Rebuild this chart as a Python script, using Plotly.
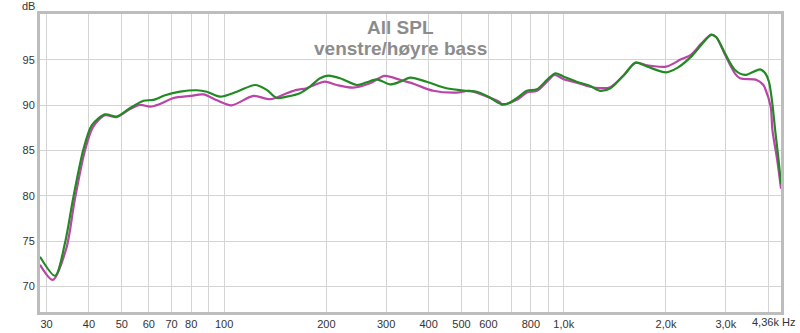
import plotly.graph_objects as go

# Green series (frequency Hz, SPL dB)
green_freq = [28.7, 31.8, 34.0, 36.0, 38.5, 40.8, 44.6, 48.3, 52.9, 57.9, 61.9, 67.0, 74.2, 83.1, 88.9,
              97.3, 109, 123.4, 133.5, 142.9, 152.9, 167.2, 179, 191.6, 202.6, 219.6, 245.9, 263.1,
              281.6, 308.5, 330, 353, 395, 452, 518, 555, 600, 648, 680, 727, 779, 834, 893, 944,
              1000, 1091, 1197, 1278, 1372, 1505, 1627, 1764, 2000, 2165, 2372, 2540, 2718, 2814,
              2983, 3194, 3418, 3788, 3921, 4020, 4110, 4200, 4290, 4363]
green_db = [73.3, 71.2, 74.8, 79.9, 85.1, 87.8, 89.0, 88.75, 89.7, 90.5, 90.6, 91.1, 91.5, 91.66, 91.5,
            90.95, 91.5, 92.24, 91.7, 90.8, 90.95, 91.33, 92.06, 92.98, 93.27, 92.98, 92.24, 92.54,
            92.87, 92.3, 92.6, 93.05, 92.6, 91.88, 91.6, 91.5, 90.95, 90.2, 90.15, 90.78, 91.6, 91.77,
            92.8, 93.53, 93.16, 92.6, 92.13, 91.6, 91.88, 93.35, 94.7, 94.26, 93.64, 94.15, 95.37,
            96.65, 97.76, 97.5, 95.74, 93.9, 93.35, 93.97, 93.53, 92.6, 90.3, 87.0, 84.0, 81.3]

# Magenta series
mag_freq = [28.7, 31.3, 34.3, 36.3, 38.8, 41.1, 44.6, 48.3, 52.9, 56.6, 60.6, 64.8, 70.9, 79.4, 86.9,
            95.2, 105, 122, 136.6, 152.9, 163.6, 175, 187.5, 198, 214.7, 240, 269, 297, 330, 353,
            369, 413, 484, 530, 600, 648, 657, 727, 779, 834, 893, 940, 1000, 1091, 1197, 1278, 1372,
            1505, 1627, 1764, 2000, 2215, 2372, 2540, 2718, 2814, 2983, 3194, 3304, 3700, 3870, 3915,
            4067, 4115, 4250, 4363]
mag_db = [72.4, 70.74, 74.2, 79.5, 84.8, 87.6, 88.9, 88.7, 89.6, 90.04, 89.85, 90.15, 90.8, 91.03, 91.2,
          90.55, 90.0, 91.03, 90.67, 91.33, 91.7, 91.88, 92.35, 92.6, 92.24, 91.95, 92.43, 93.24, 92.8,
          92.5, 92.24, 91.6, 91.4, 91.6, 90.9, 90.35, 90.04, 90.6, 91.4, 91.6, 92.6, 93.35, 92.87, 92.5,
          92.05, 91.9, 92.0, 93.35, 94.7, 94.4, 94.26, 95.07, 95.6, 96.8, 97.8, 97.5, 95.6, 93.5, 92.98,
          92.8, 92.24, 91.88, 89.85, 87.3, 84.0, 80.8]

x_tickvals = [30, 40, 50, 60, 70, 80, 90, 100, 200, 300, 400, 500, 600, 700, 800, 900, 1000, 2000, 3000, 4000]
x_ticktext = ["30", "40", "50", "60", "70", "80", "", "100", "200", "300", "400", "500", "600", "",
              "800", "", "1,0k", "2,0k", "3,0k", ""]
y_tickvals = [70, 75, 80, 85, 90, 95]

title_lines = ["All SPL", "venstre/høyre bass"]

fig = go.Figure()
fig.add_trace(go.Scatter(x=mag_freq, y=mag_db, mode="lines",
                         line=dict(color="#bb44a8", width=2.2, shape="spline", smoothing=0.8),
                         showlegend=False, hoverinfo="skip"))
fig.add_trace(go.Scatter(x=green_freq, y=green_db, mode="lines",
                         line=dict(color="#228a22", width=2.2, shape="spline", smoothing=0.8),
                         showlegend=False, hoverinfo="skip"))

axis_font = dict(family="Liberation Sans, Arial, sans-serif", size=11, color="#333333")

fig.update_layout(
    width=800, height=333,
    margin=dict(l=40, r=19, t=14, b=21),
    paper_bgcolor="white", plot_bgcolor="white",
    xaxis=dict(type="log", range=[1.4579, 3.6397], tickvals=x_tickvals, ticktext=x_ticktext,
               showgrid=True, gridcolor="#d4d4d4", gridwidth=1, zeroline=False,
               showline=True, linecolor="#bdbdbd", linewidth=3, mirror=True,
               ticks="", tickfont=axis_font, automargin=False, fixedrange=True),
    yaxis=dict(range=[67.2, 100.07], tickvals=y_tickvals,
               showgrid=True, gridcolor="#d4d4d4", gridwidth=1, zeroline=False,
               showline=True, linecolor="#bdbdbd", linewidth=3, mirror=True,
               ticks="", tickfont=axis_font, automargin=False, fixedrange=True),
    annotations=[
        dict(text=title_lines[0], xref="paper", yref="paper", x=0.486, y=0.956,
             xanchor="center", yanchor="middle", showarrow=False,
             font=dict(family="Liberation Sans, Arial, sans-serif", size=19, color="#8c8c8c", weight="bold")),
        dict(text=title_lines[1], xref="paper", yref="paper", x=0.486, y=0.8826,
             xanchor="center", yanchor="middle", showarrow=False,
             font=dict(family="Liberation Sans, Arial, sans-serif", size=19, color="#8c8c8c", weight="bold")),
        dict(text="dB", xref="paper", yref="paper", x=-0.016, y=1.027,
             xanchor="center", yanchor="middle", showarrow=False, font=axis_font),
        dict(text="4,36k Hz", xref="paper", yref="paper", x=0.99, y=-0.034,
             xanchor="center", yanchor="middle", showarrow=False, font=axis_font),
    ],
)

fig.write_html("out.html", config={"displayModeBar": False},
               post_script="document.body.style.margin='0';document.body.style.padding='0';")
